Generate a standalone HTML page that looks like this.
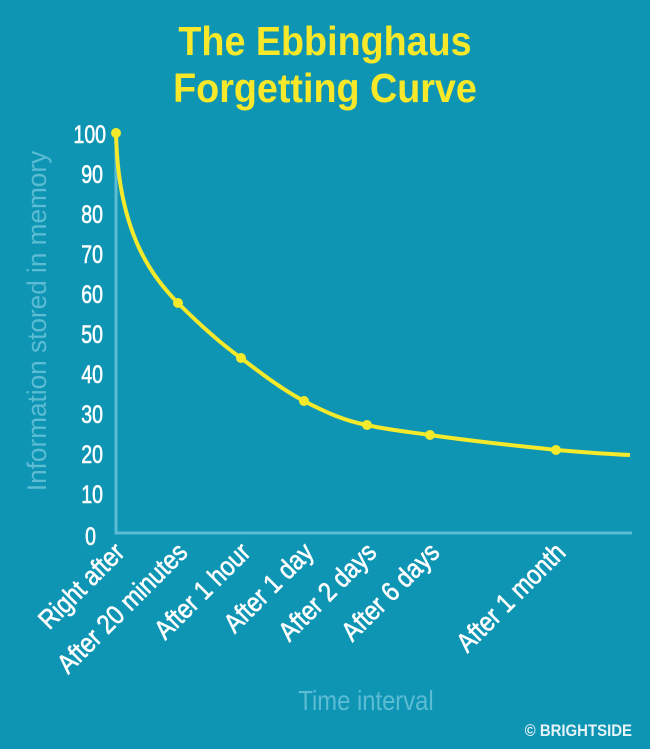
<!DOCTYPE html>
<html><head><style>
body{margin:0;background:#0f95b4;}
svg{display:block}
text{font-family:"Liberation Sans",sans-serif;}
</style></head><body>
<svg width="650" height="749" viewBox="0 0 650 749">
<rect width="650" height="749" fill="#0f95b4"/>
<text transform="translate(325,55) scale(0.92,1)" text-anchor="middle" font-size="41" font-weight="bold" fill="#f7e82a">The Ebbinghaus</text>
<text transform="translate(325,102) scale(0.92,1)" text-anchor="middle" font-size="41" font-weight="bold" fill="#f7e82a">Forgetting Curve</text>
<polyline points="116,128 116,533 632,533" fill="none" stroke="#5bbcd3" stroke-width="3"/>
<g font-size="25" fill="#fff" stroke="#fff" stroke-width="0.6" text-anchor="end">
<text transform="translate(106,143) scale(0.78,1)">100</text>
<text transform="translate(103,183) scale(0.78,1)">90</text>
<text transform="translate(103,223) scale(0.78,1)">80</text>
<text transform="translate(103,263) scale(0.78,1)">70</text>
<text transform="translate(103,303) scale(0.78,1)">60</text>
<text transform="translate(103,343) scale(0.78,1)">50</text>
<text transform="translate(103,383) scale(0.78,1)">40</text>
<text transform="translate(103,423) scale(0.78,1)">30</text>
<text transform="translate(103,463) scale(0.78,1)">20</text>
<text transform="translate(103,503) scale(0.78,1)">10</text>
<text transform="translate(96,545) scale(0.78,1)">0</text>
</g>
<text transform="translate(46,321) rotate(-90) scale(0.97,1)" text-anchor="middle" font-size="27" fill="#5bbcd3">Information stored in memory</text>
<path d="M116,133 C118,230 150,275 178,303 C200,325 220,343 241,358 C262,374 283,390 304,401 C325,412 345,421 367,425 C388,430 410,432 430,435 C470,441 510,445 556,450 C580,452 605,454 630,455" fill="none" stroke="#f4e92a" stroke-width="4"/>
<g fill="#f4e92a">
<circle cx="116" cy="133" r="5"/><circle cx="178" cy="303" r="5"/><circle cx="241" cy="358" r="5"/>
<circle cx="304" cy="401" r="5"/><circle cx="367" cy="425" r="5"/><circle cx="430" cy="435" r="5"/>
<circle cx="556" cy="450" r="5"/>
</g>
<g font-size="27" fill="#fff" stroke="#fff" stroke-width="0.6" text-anchor="end">
<text transform="translate(126,554) rotate(-45) scale(0.87,1)">Right after</text>
<text transform="translate(189,554) rotate(-45) scale(0.87,1)">After 20 minutes</text>
<text transform="translate(252,554) rotate(-45) scale(0.87,1)">After 1 hour</text>
<text transform="translate(315,554) rotate(-45) scale(0.87,1)">After 1 day</text>
<text transform="translate(378,554) rotate(-45) scale(0.87,1)">After 2 days</text>
<text transform="translate(441,554) rotate(-45) scale(0.87,1)">After 6 days</text>
<text transform="translate(567,554) rotate(-45) scale(0.87,1)">After 1 month</text>
</g>
<text transform="translate(366,710) scale(0.85,1)" text-anchor="middle" font-size="28" fill="#5bbcd3">Time interval</text>
<text transform="translate(632,736) scale(0.88,1)" text-anchor="end" font-size="17" font-weight="bold" fill="#e6f3f7">© BRIGHTSIDE</text>
</svg>
</body></html>
